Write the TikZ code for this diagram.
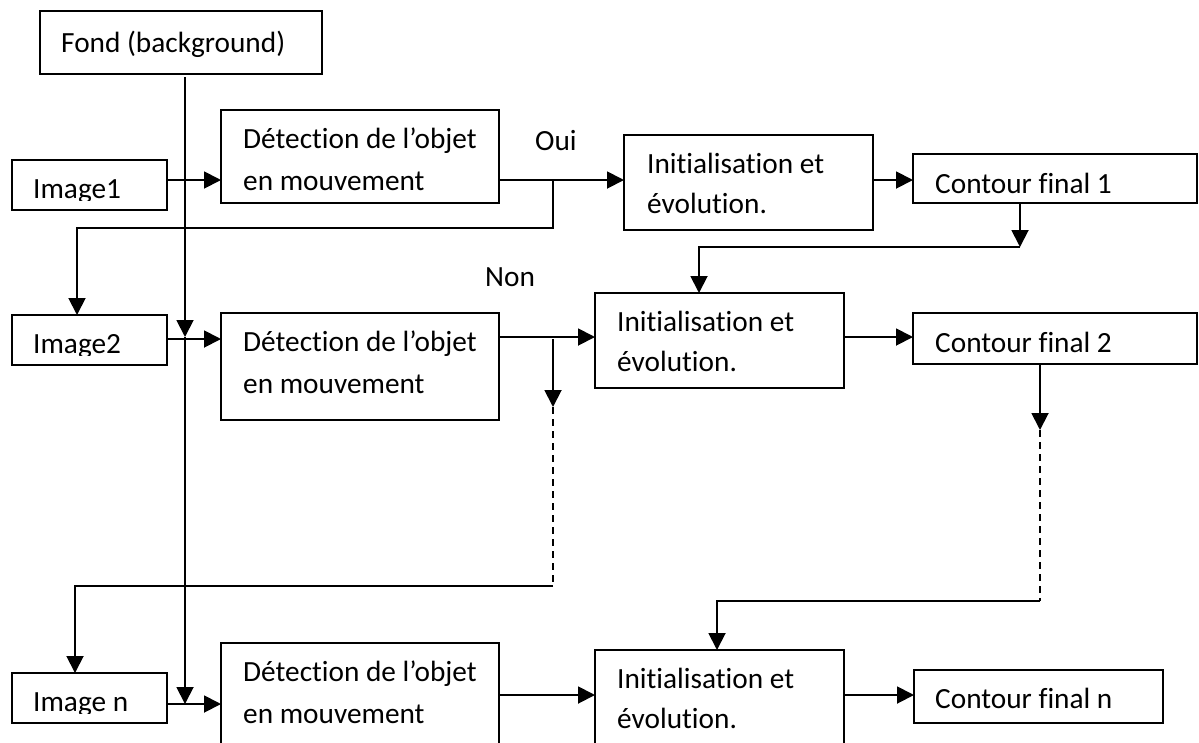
\documentclass[tikz,border=0pt]{standalone}
\usepackage{fontspec}
\setmainfont{Carlito}[Ligatures=NoCommon]
\usetikzlibrary{arrows.meta}
\begin{document}
\begin{tikzpicture}[x=1pt,y=-1pt,
  box/.style={draw, line width=1.9pt, rectangle, inner sep=0pt, outer sep=0pt, anchor=north west},
  txt/.style={anchor=base west, inner sep=0pt, font=\fontsize{29.3}{34}\selectfont},
  arr/.style={line width=1.9pt, -{Triangle[length=17pt,width=17pt]}},
  ln/.style={line width=1.9pt},
  dsh/.style={line width=1.9pt, dash pattern=on 7pt off 5pt}]
\useasboundingbox (0,0) rectangle (1199,742);
\clip (0,0) rectangle (1199,742);

% ---- boxes ----
\node[box, minimum width=282pt, minimum height=63pt] (fond) at (40,11) {};
\node[box, minimum width=155pt, minimum height=50pt] (img1) at (12,160) {};
\node[box, minimum width=278pt, minimum height=93pt] (det1) at (221,110) {};
\node[box, minimum width=249pt, minimum height=95pt] (init1) at (624,135) {};
\node[box, minimum width=284pt, minimum height=49pt] (cf1) at (913,154) {};

\node[box, minimum width=155pt, minimum height=50pt] (img2) at (12,315) {};
\node[box, minimum width=278pt, minimum height=107pt] (det2) at (221,313) {};
\node[box, minimum width=249pt, minimum height=95pt] (init2) at (595,293) {};
\node[box, minimum width=284pt, minimum height=51pt] (cf2) at (913,313) {};

\node[box, minimum width=155pt, minimum height=50pt] (imgn) at (12,673) {};
\node[box, minimum width=278pt, minimum height=130pt] (detn) at (221,643) {};
\node[box, minimum width=249pt, minimum height=130pt] (initn) at (595,650) {};
\node[box, minimum width=249pt, minimum height=53pt] (cfn) at (914,670) {};

% ---- texts ----
\node[txt] (fondt) at (61,52) {Fond (background)};
\begin{scope}
  \clip (12,160) rectangle (167,200);
  \node[txt] (img1t) at (33,198) {Image1};
\end{scope}
\begin{scope}
  \clip (12,315) rectangle (167,355);
  \node[txt] (img2t) at (33,353) {Image2};
\end{scope}
\begin{scope}
  \clip (12,673) rectangle (167,713);
  \node[txt] (imgnt) at (33,711) {Image n};
\end{scope}

\node[txt] (det1a) at (243,148) {Détection de l’objet};
\node[txt] (det1b) at (243,190) {en mouvement};
\node[txt] (det2a) at (243,351) {Détection de l’objet};
\node[txt] (det2b) at (243,393) {en mouvement};
\node[txt] (detna) at (243,681) {Détection de l’objet};
\node[txt] (detnb) at (243,723) {en mouvement};

\node[txt] (init1a) at (647,173) {Initialisation et};
\node[txt] (init1b) at (647,213) {évolution.};
\node[txt] (init2a) at (617,331) {Initialisation et};
\node[txt] (init2b) at (617,371) {évolution.};
\node[txt] (initna) at (617,688) {Initialisation et};
\node[txt] (initnb) at (617,728) {évolution.};

\node[txt] (cf1t) at (935,193) {Contour final 1};
\node[txt] (cf2t) at (935,352) {Contour final 2};
\node[txt] (cfnt) at (935,708) {Contour final n};

\node[txt] (oui) at (535,150) {Oui};
\node[txt] (non) at (485,286) {Non};

% ---- row levels ----
\coordinate (r1) at (0,180);
\coordinate (r2a) at (0,339);
\coordinate (r2) at (0,337);
\coordinate (rna) at (0,704);
\coordinate (rn) at (0,695);

% ---- background line ----
\coordinate (f0) at (185,77);
\coordinate (f2) at (185,337);
\coordinate (fn) at (185,704);
\draw[arr] (f0) -- (f2);
\draw[arr] (f2) -- (fn);

% ---- row 1 ----
\draw[arr] (img1.east |- r1) -- (det1.west |- r1);
\draw[arr] (det1.east |- r1) -- (init1.west |- r1);
\draw[arr] (init1.east |- r1) -- (cf1.west |- r1);

% "Oui" branch back to Image2
\coordinate (b1) at (553,180);
\coordinate (b2) at (553,228);
\coordinate (b3) at (77,228);
\draw[arr] (b1) -- (b2) -- (b3) -- (b3 |- img2.north);

% Contour final 1 to the second initialisation
\coordinate (k0) at (1020,203);
\coordinate (k1) at (1020,247);
\coordinate (k2) at (699,247);
\draw[arr] (k0) -- (k1);
\draw[arr] (k1) -- (k2) -- (k2 |- init2.north);

% ---- row 2 ----
\draw[arr] (img2.east |- r2a) -- (det2.west |- r2a);
\draw[arr] (det2.east |- r2) -- (init2.west |- r2);
\draw[arr] (init2.east |- r2) -- (cf2.west |- r2);

% "Non" branch down to Image n
\coordinate (n0) at (553,339);
\coordinate (n1) at (553,407);
\coordinate (n2) at (553,586);
\coordinate (n3) at (75,586);
\draw[arr] (n0) -- (n1);
\draw[dsh] (n1) -- (n2);
\draw[arr] (n2) -- (n3) -- (n3 |- imgn.north);

% Contour final 2 down to the last initialisation
\coordinate (m0) at (1040,364);
\coordinate (m1) at (1040,430);
\coordinate (m2) at (1040,601);
\coordinate (m3) at (717,601);
\draw[arr] (m0) -- (m1);
\draw[dsh] (m1) -- (m2);
\draw[arr] (m2) -- (m3) -- (m3 |- initn.north);

% ---- row n ----
\draw[arr] (imgn.east |- rna) -- (detn.west |- rna);
\draw[arr] (detn.east |- rn) -- (initn.west |- rn);
\draw[arr] (initn.east |- rn) -- (cfn.west |- rn);
\end{tikzpicture}
\end{document}
